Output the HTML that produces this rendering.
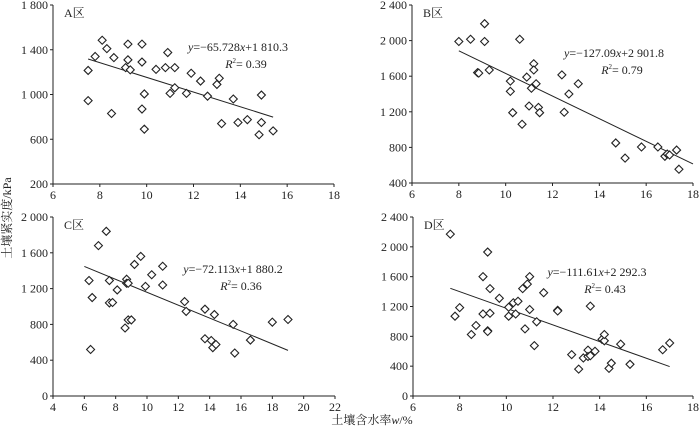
<!DOCTYPE html>
<html><head><meta charset="utf-8">
<style>
html,body{margin:0;padding:0;background:#fff;}
svg{display:block;font-family:"Liberation Serif","Noto Serif CJK SC",serif;}
</style></head>
<body>
<svg id="chart" width="700" height="429" viewBox="0 0 700 429">
<text x="0" y="0" transform="translate(11,218) rotate(-90)" text-anchor="middle" font-size="12" fill="#222">土壤紧实度/kPa</text>
<text x="372" y="424" text-anchor="middle" font-size="12" fill="#222">土壤含水率<tspan font-style="italic">w</tspan>/%</text>
</svg>
<script>
const aX=[7.5,7.5,7.8,8.1,8.3,8.5,8.6,9.1,9.2,9.2,9.3,9.8,9.8,9.8,9.9,9.9,10.4,10.8,10.9,11.0,11.2,11.2,11.7,11.9,12.3,12.6,13.0,13.1,13.2,13.7,13.9,14.3,14.8,14.9,14.9,15.4];
const aY=[945,1215,1340,1485,1410,830,1330,1240,1310,1450,1220,1450,870,1290,1005,690,1225,1240,1375,1010,1240,1060,1010,1190,1120,985,1090,1145,740,960,750,775,640,995,750,675];
const bX=[8.0,8.5,9.1,9.1,8.8,8.85,9.3,10.2,10.2,10.3,10.6,10.7,10.9,11.0,11.1,11.2,11.2,11.3,11.4,11.45,12.4,12.5,12.7,13.1,14.7,15.1,15.8,16.5,16.8,16.9,17.0,17.3,17.4];
const bY=[1990,2015,2190,1990,1640,1635,1670,1545,1430,1190,2015,1060,1590,1265,1465,1740,1670,1515,1250,1190,1615,1195,1400,1515,850,680,805,805,700,725,715,770,555];
const cX=[6.3,6.4,6.5,6.9,7.4,7.6,7.6,7.8,8.1,8.6,8.7,8.7,8.8,8.8,9.0,9.2,9.6,9.9,10.3,11.0,11.0,12.4,12.5,13.7,13.7,14.1,14.2,14.3,14.4,15.5,15.6,16.6,18.0,19.0];
const cY=[1290,520,1100,1680,1840,1040,1290,1045,1185,760,1305,1260,850,1260,850,1470,1560,1225,1355,1450,1240,1055,945,970,640,620,540,910,575,800,480,625,825,855];
const dX=[7.6,7.8,8.0,8.5,8.7,9.0,9.0,9.2,9.2,9.2,9.3,9.3,9.7,10.1,10.1,10.3,10.4,10.5,10.7,10.8,10.9,11.0,11.0,11.2,11.3,11.6,12.2,12.2,12.8,13.1,13.3,13.5,13.5,13.6,13.6,13.8,14.1,14.2,14.2,14.4,14.5,14.9,15.3,16.7,17.0];
const dY=[2170,1070,1185,825,945,1600,1100,1930,875,865,1110,1440,1310,1190,1070,1250,1100,1270,1440,900,1500,1160,1600,675,995,1385,1150,1140,555,360,510,615,530,540,1205,600,760,740,825,370,440,695,425,620,710];
const aXT=[6,8,10,12,14,16,18], aYT=[200,600,1000,1400,1800];
const bXT=[6,8,10,12,14,16,18], bYT=[400,800,1200,1600,2000,2400];
const cXT=[4,6,8,10,12,14,16,18,20,22], cYT=[0,400,800,1200,1600,2000];
const dXT=[6,8,10,12,14,16,18], dYT=[0,400,800,1200,1600,2000,2400];
const aFit=[-65.728,1810.3], bFit=[-127.09,2901.8], cFit=[-72.113,1880.2], dFit=[-111.61,2292.3];

const NS='http://www.w3.org/2000/svg';
const svg=document.getElementById('chart');
function el(t,attrs,parent){const e=document.createElementNS(NS,t);for(const k in attrs)e.setAttribute(k,attrs[k]);(parent||svg).appendChild(e);return e;}
function fmt(v){const s=String(v);return s.length>3?s.slice(0,s.length-3)+' '+s.slice(-3):s;}

function panel(id,box,xs,ys,xt,yt,fit,fitRange,label,eq,r2,eqPos){
  const g=el('g',{});
  
  
  const x0=xt[0],x1=xt[xt.length-1],y0=yt[0],y1=yt[yt.length-1];
  const sx=v=>box.l+(v-x0)/(x1-x0)*(box.r-box.l);
  const sy=v=>box.b-(v-y0)/(y1-y0)*(box.b-box.t);
  const ya=el('line',{x1:box.l,y1:box.t,x2:box.l,y2:box.b,stroke:'#222','stroke-width':1},g);
  
  
  const xa=el('line',{x1:box.l,y1:box.b,x2:box.r,y2:box.b,stroke:'#222','stroke-width':1},g);
  
  
  xt.forEach(v=>{
    el('line',{x1:sx(v),y1:box.b,x2:sx(v),y2:box.b+3,stroke:'#222'},g);
    const t=el('text',{x:sx(v),y:box.b+15,'text-anchor':'middle','font-size':12,fill:'#222'},g);
    t.textContent=v;
    
    
  });
  yt.forEach(v=>{
    el('line',{x1:box.l-3,y1:sy(v),x2:box.l,y2:sy(v),stroke:'#222'},g);
    const t=el('text',{x:box.l-5,y:sy(v)+4,'text-anchor':'end','font-size':12,fill:'#222'},g);
    t.textContent=fmt(v);
    
    
  });
  const fl=el('line',{x1:sx(fitRange[0]),y1:sy(fit[0]*fitRange[0]+fit[1]),x2:sx(fitRange[1]),y2:sy(fit[0]*fitRange[1]+fit[1]),stroke:'#222','stroke-width':1},g);
  
  
  xs.forEach((v,i)=>{
    const cx=sx(v),cy=sy(ys[i]);
    const p=el('polygon',{points:`${cx},${cy-4} ${cx+4},${cy} ${cx},${cy+4} ${cx-4},${cy}`,fill:'#fff',stroke:'#222','stroke-width':1.1},g);
    
    
  });
  const lb=el('text',{x:box.l+11,y:box.t+12,'font-size':12,fill:'#222'},g);
  lb.textContent=label;
  
  
  const e=el('text',{x:eqPos[0],y:eqPos[1],'text-anchor':'middle','font-size':12,fill:'#222'},g);
  e.innerHTML='<tspan font-style="italic">y</tspan>='+eq.replace('x','<tspan font-style="italic">x</tspan>');
  
  
  const r=el('text',{x:eqPos[0]+8,y:eqPos[1]+17,'text-anchor':'middle','font-size':12,fill:'#222'},g);
  r.innerHTML='<tspan font-style="italic">R</tspan><tspan font-size="7" dy="-5">2</tspan><tspan dy="5">= '+r2+'</tspan>';
  
  
}
panel('a',{l:53,r:334,t:5,b:184},aX,aY,aXT,aYT,aFit,[7.5,15.4],'A区','−65.728x+1 810.3','0.39',[238,51]);
panel('b',{l:412,r:693,t:5,b:183},bX,bY,bXT,bYT,bFit,[8,18],'B区','−127.09x+2 901.8','0.79',[614,57]);
panel('c',{l:53,r:335,t:217,b:396},cX,cY,cXT,cYT,cFit,[6,19],'C区','−72.113x+1 880.2','0.36',[233,273]);
panel('d',{l:413,r:693,t:217,b:396},dX,dY,dXT,dYT,dFit,[7.6,17],'D区','−111.61x+2 292.3','0.43',[597,276]);
</script>
</body></html>
